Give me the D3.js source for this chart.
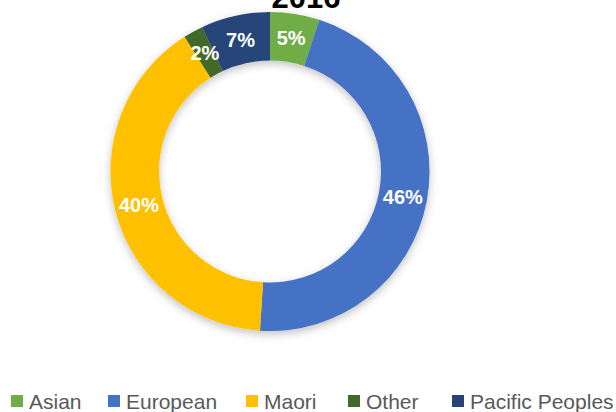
<!DOCTYPE html>
<html>
<head>
<meta charset="utf-8">
<script src="https://cdn.jsdelivr.net/npm/d3@7"></script>
<style>
  html, body { margin: 0; padding: 0; background: #fff; }
  svg { display: block; }
</style>
</head>
<body>
<div id="chart"></div>
<script>
var categories = ["Asian", "European", "Maori", "Other", "Pacific Peoples"];
var values = [5, 46, 40, 2, 7];
var colors = ["#70AD47", "#4472C4", "#FFC000", "#43682B", "#264478"];
var title = "2016";

var width = 616, height = 412;
var cx = 270, cy = 171.5, outerR = 159.5, innerR = 111;

var svg = d3.select("#chart").append("svg")
    .attr("width", width)
    .attr("height", height);

// soft shadow like the office chart
var defs = svg.append("defs");
var filter = defs.append("filter").attr("id", "shadow")
    .attr("x", "-20%").attr("y", "-20%").attr("width", "140%").attr("height", "140%");
filter.append("feDropShadow")
    .attr("dx", 0).attr("dy", 3)
    .attr("stdDeviation", 4)
    .attr("flood-color", "#000")
    .attr("flood-opacity", 0.25);

var data = categories.map(function(c, i) {
    return { name: c, value: values[i], color: colors[i] };
});

var pie = d3.pie().sort(null).value(function(d) { return d.value; });
var arc = d3.arc().innerRadius(innerR).outerRadius(outerR);

var g = svg.append("g").attr("transform", "translate(" + cx + "," + cy + ")");

var ring = g.append("g").attr("filter", "url(#shadow)");
ring.selectAll("path")
    .data(pie(data))
    .enter().append("path")
    .attr("d", arc)
    .attr("fill", function(d) { return d.data.color; });

g.selectAll("text.lbl")
    .data(pie(data))
    .enter().append("text")
    .attr("class", "lbl")
    .attr("transform", function(d) { return "translate(" + arc.centroid(d) + ")"; })
    .attr("text-anchor", "middle")
    .attr("dy", "0.36em")
    .attr("fill", "#fff")
    .style("font-family", "'Liberation Sans', Arial, sans-serif")
    .style("font-weight", "bold")
    .style("font-size", "20px")
    .text(function(d) { return d.data.value + "%"; });

// title (partly cut at the top, as in the original)
svg.append("text")
    .attr("x", 306)
    .attr("y", 8)
    .attr("text-anchor", "middle")
    .attr("fill", "#000")
    .style("font-family", "'Liberation Sans', Arial, sans-serif")
    .style("font-weight", "bold")
    .style("font-size", "31px")
    .text(title);

// legend
var legendX = [11, 108, 246, 348, 452];
var legend = svg.selectAll("g.leg")
    .data(data)
    .enter().append("g")
    .attr("class", "leg")
    .attr("transform", function(d, i) { return "translate(" + legendX[i] + ",395)"; });

legend.append("rect")
    .attr("width", 12).attr("height", 12)
    .attr("fill", function(d) { return d.color; });

legend.append("text")
    .attr("x", 18)
    .attr("y", 14)
    .attr("fill", "#595959")
    .style("font-family", "'Liberation Sans', Arial, sans-serif")
    .style("font-size", "21px")
    .text(function(d) { return d.name; });
</script>
</body>
</html>
